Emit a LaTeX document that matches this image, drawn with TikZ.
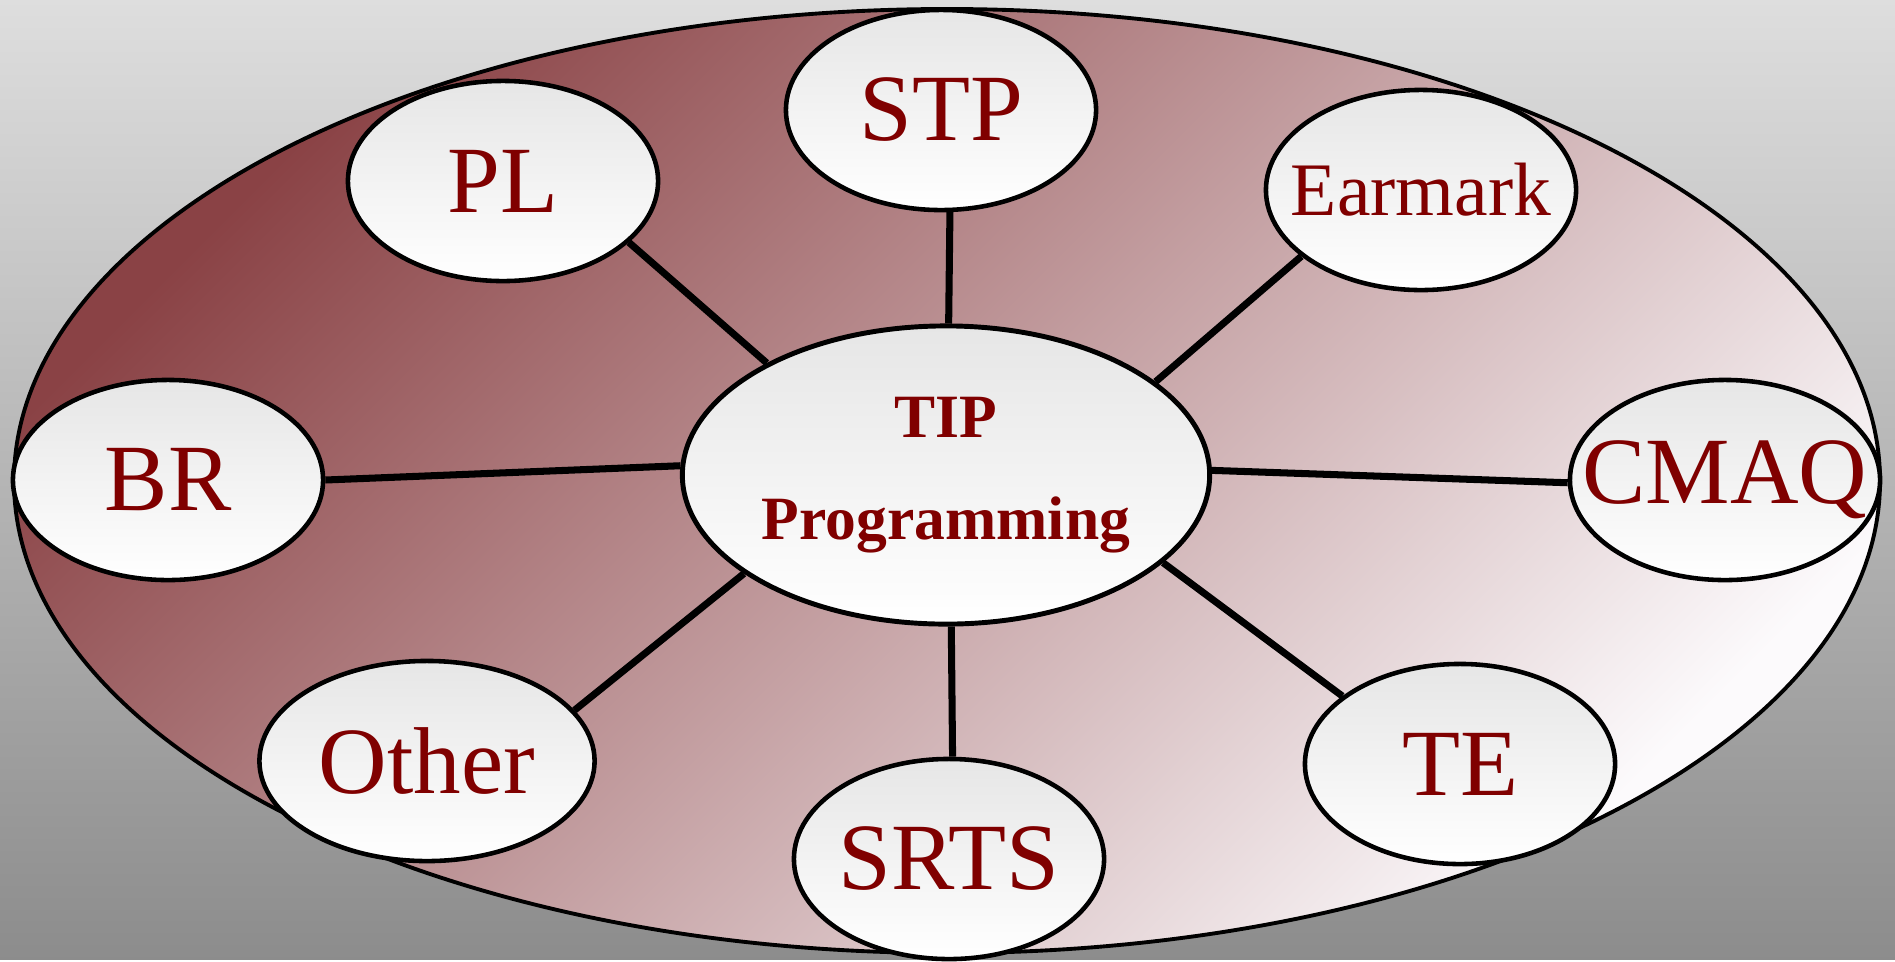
\documentclass[tikz,border=0pt]{standalone}
\usepackage{fontspec}
\setmainfont{Liberation Serif}
\usepackage{xcolor}
\usepackage{tikz}
\usetikzlibrary{shapes.geometric}

\definecolor{tipred}{RGB}{128,0,0}
\definecolor{ringdark}{RGB}{138,66,69}
\definecolor{ringmid}{RGB}{188,160,162}
\definecolor{ringlight}{RGB}{252,250,252}
\definecolor{leaftop}{RGB}{230,230,230}
\newcommand{\lbl}[1]{\makebox[0pt]{#1}}

\begin{document}
\begin{tikzpicture}[
        x=0.01cm, y=-0.01cm,
        leaf/.style={ellipse, draw, line width=1.3pt, minimum width=3.1cm, minimum height=2cm, inner sep=0pt, top color=leaftop, bottom color=white, text=tipred, font=\fontsize{27}{31}\selectfont},
        hub/.style={ellipse, draw, line width=1.4pt, minimum width=5.27cm, minimum height=2.98cm, inner sep=0pt, top color=leaftop, bottom color=white, text=tipred, align=center, font=\bfseries\fontsize{17.5}{29}\selectfont},
        spoke/.style={line width=2pt}
    ]

    % Background and ring
    \shade[top color=black!13, middle color=white, bottom color=black!45] (0,0) rectangle (1895,959);
    \draw[line width=1.1pt, top color=ringdark, middle color=ringmid, bottom color=ringlight, shading angle=45] (947,481) ellipse [x radius=933, y radius=472];

    % Nodes
    \node[hub] (tip) at (946,475) {TIP\\Programming};
    \node[leaf] (stp) at (941,110) {\lbl{STP}};
    \node[leaf] (pl) at (503,181) {\lbl{PL}};
    \node[leaf, font=\fontsize{21.5}{25}\selectfont] (earmark) at (1421,190) {\lbl{Earmark}};
    \node[leaf] (br) at (168,480) {\lbl{BR}};
    \node[leaf] (cmaq) at (1725,480) {\lbl{CMAQ}};
    \node[leaf, minimum width=3.35cm] (other) at (427,761) {\lbl{Other}};
    \node[leaf] (srts) at (949,859) {\lbl{SRTS}};
    \node[leaf] (te) at (1460,764) {\lbl{TE}};

    % Spokes
    \foreach \leaf/\a/\b in {pl/148/-26, stp/89/-85, earmark/24/209, br/178/0, cmaq/1/181, other/206/19, srts/-88/88, te/-22/150}
        \draw[spoke] (tip.\a) -- (\leaf.\b);
\end{tikzpicture}
\end{document}
